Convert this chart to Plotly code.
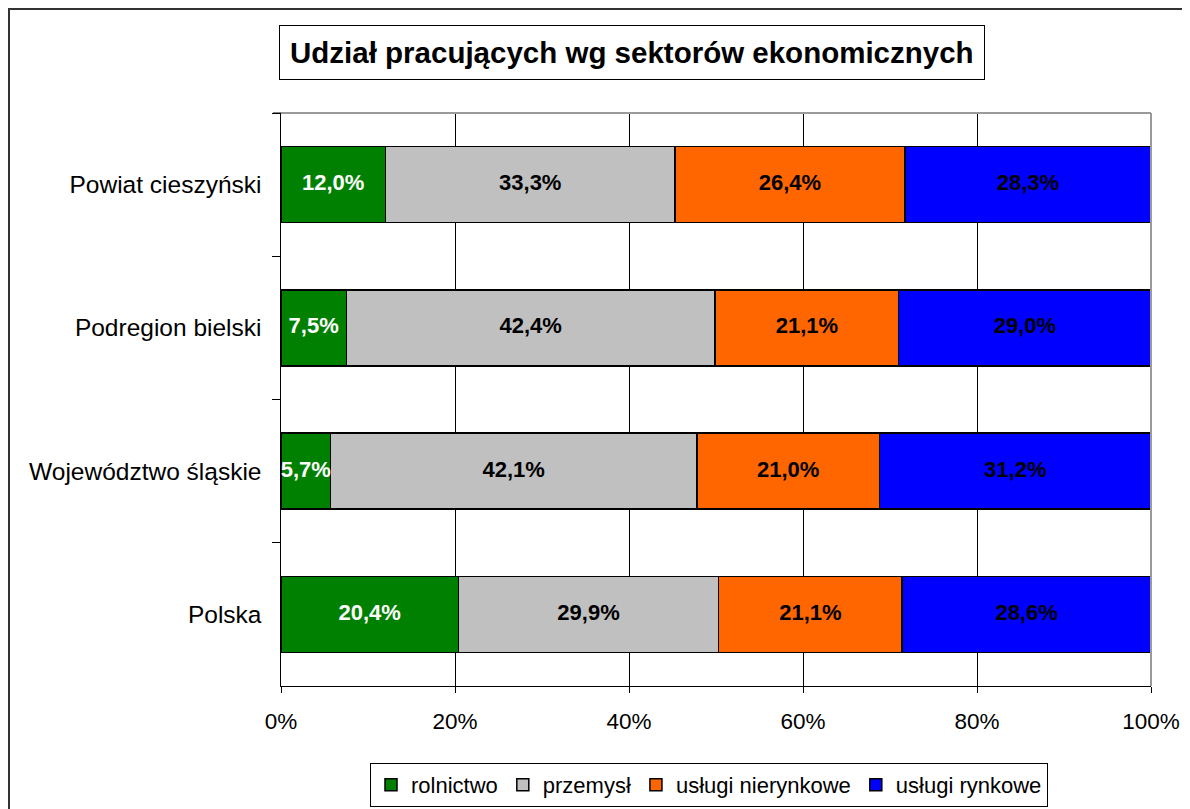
import plotly.graph_objects as go

categories = ["Powiat cieszyński", "Podregion bielski", "Województwo śląskie", "Polska"]
rolnictwo = [12.0, 7.5, 5.7, 20.4]
przemysl = [33.3, 42.4, 42.1, 29.9]
uslugi_nierynkowe = [26.4, 21.1, 21.0, 21.1]
uslugi_rynkowe = [28.3, 29.0, 31.2, 28.6]
x_ticks = [0, 20, 40, 60, 80, 100]

series = [
    ("rolnictwo", rolnictwo, "#008000", "white"),
    ("przemysł", przemysl, "#C0C0C0", "black"),
    ("usługi nierynkowe", uslugi_nierynkowe, "#FF6600", "black"),
    ("usługi rynkowe", uslugi_rynkowe, "#0000FF", "black"),
]

FONT = "Liberation Sans, Arial, sans-serif"

fig = go.Figure()
base = [0.0] * len(categories)
for name, vals, color, tcol in series:
    fig.add_trace(go.Bar(
        y=categories, x=vals, name=name, orientation="h",
        marker=dict(color=color, line=dict(color="black", width=1.5)),
        hoverinfo="skip",
    ))
    mids = [b + v / 2 for b, v in zip(base, vals)]
    fig.add_trace(go.Scatter(
        y=categories, x=mids, mode="text", showlegend=False, hoverinfo="skip",
        text=[f"{v:.1f}%".replace(".", ",") for v in vals],
        textposition="middle center",
        textfont=dict(family=FONT, size=22, color=tcol, weight="bold"),
        cliponaxis=False,
    ))
    base = [b + v for b, v in zip(base, vals)]

# page is offset by 8px body margin -> figure coords = page coords - 8
FW, FH = 1182, 801
L, R, T, B = 273, 1143, 105, 678
W, H = R - L, B - T

def px_x(p):
    return (p - L) / W

def px_y(p):
    return (B - p) / H

fig.update_layout(
    barmode="stack", bargap=0.47,
    width=FW, height=FH,
    margin=dict(l=L, r=FW - R, t=T, b=FH - B, pad=0, autoexpand=False),
    paper_bgcolor="white", plot_bgcolor="white",
    font=dict(family=FONT, color="black", size=22),
    showlegend=True,
    legend=dict(orientation="h", x=px_x(701), xanchor="center", y=px_y(755), yanchor="top",
                bordercolor="black", borderwidth=1, font=dict(size=22, family=FONT),
                itemwidth=30, tracegroupgap=0, traceorder="normal"),
    xaxis=dict(range=[0, 100], tickvals=x_ticks, ticktext=[f"{t}%" for t in x_ticks],
               showgrid=True, gridcolor="black", gridwidth=1, showline=True, linecolor="black",
               linewidth=1, ticks="outside", ticklen=6, tickcolor="black", zeroline=False,
               tickfont=dict(size=22.5), ticklabelstandoff=9, fixedrange=True,
               automargin=False),
    yaxis=dict(autorange="reversed", showline=True, linecolor="black", linewidth=1,
               ticks="outside", ticklen=8, tickcolor="black", tickson="boundaries",
               showgrid=False, tickfont=dict(size=24.5), ticksuffix="  ", automargin=False),
)

# plot area gray border (top, right)
fig.add_shape(type="line", xref="paper", yref="paper", x0=0, x1=1, y0=1, y1=1,
              line=dict(color="#9a9a9a", width=2), layer="above")
fig.add_shape(type="line", xref="paper", yref="paper", x0=1, x1=1, y0=0, y1=1,
              line=dict(color="#9a9a9a", width=2), layer="above")
fig.add_shape(type="line", xref="paper", yref="paper", x0=-8 / W, x1=0, y0=1, y1=1,
              line=dict(color="black", width=1), layer="above")

# outer chart border (left and top visible)
fig.add_shape(type="line", xref="paper", yref="paper", x0=px_x(1), x1=px_x(1), y0=px_y(0), y1=px_y(830),
              line=dict(color="#333333", width=2))
fig.add_shape(type="line", xref="paper", yref="paper", x0=px_x(0), x1=px_x(1210), y0=px_y(1), y1=px_y(1),
              line=dict(color="#333333", width=2))

fig.add_annotation(
    text="<b>Udział pracujących wg sektorów ekonomicznych</b>",
    xref="paper", yref="paper", x=px_x(623.5), y=px_y(45), xanchor="center", yanchor="middle",
    showarrow=False, font=dict(size=29.5, family=FONT, color="black"),
    bordercolor="black", borderwidth=1, borderpad=10, bgcolor="white",
)

fig.write_html("out.html")
